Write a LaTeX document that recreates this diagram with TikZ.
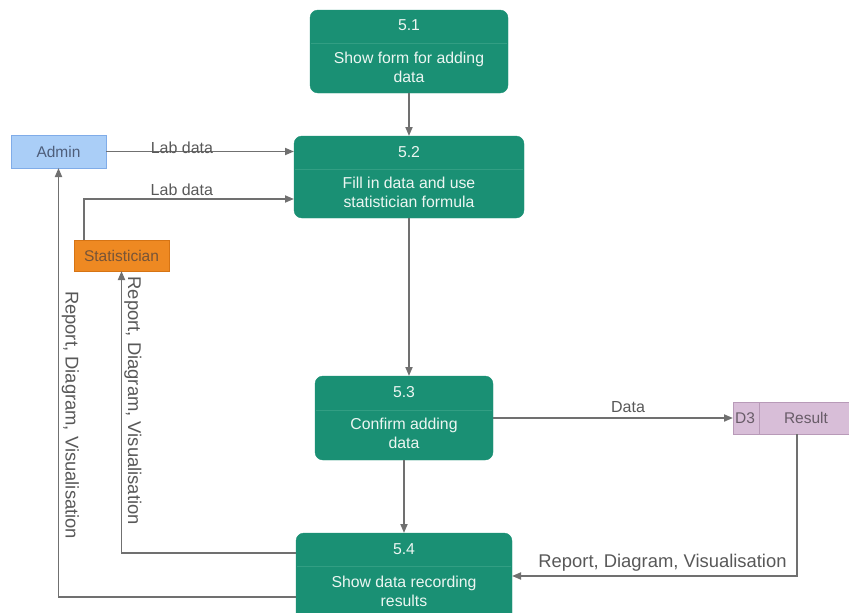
\documentclass[tikz,border=0pt]{standalone}
\usepackage{fontspec}
\setmainfont{Liberation Sans}
\usetikzlibrary{arrows.meta}

\definecolor{procgreen}{RGB}{26,144,116}
\definecolor{procsep}{RGB}{50,158,131}
\definecolor{proctext}{RGB}{236,246,242}
\definecolor{flowgray}{RGB}{112,112,112}
\definecolor{labelgray}{RGB}{88,88,88}
\definecolor{adminfill}{RGB}{170,206,247}
\definecolor{admindraw}{RGB}{128,172,232}
\definecolor{admintext}{RGB}{78,94,122}
\definecolor{statfill}{RGB}{238,137,34}
\definecolor{statdraw}{RGB}{214,116,20}
\definecolor{stattext}{RGB}{118,84,56}
\definecolor{storefill}{RGB}{216,190,216}
\definecolor{storedraw}{RGB}{184,154,184}
\definecolor{storetext}{RGB}{104,92,104}

\begin{document}
\begin{tikzpicture}[x=1pt,y=-1pt,
  proc/.style={draw=procgreen, fill=procgreen, rounded corners=8pt,
    inner sep=0pt, outer sep=0pt},
  proctitle/.style={text=proctext, inner sep=0pt,
    font=\fontsize{15.8}{19}\selectfont},
  procbody/.style={text=proctext, inner sep=0pt, align=center,
    font=\fontsize{15.8}{19}\selectfont},
  procsepline/.style={draw=procsep, line width=0.6pt},
  entity/.style={inner sep=0pt, outer sep=0pt, line width=0.8pt,
    font=\fontsize{15.5}{19}\selectfont},
  flow/.style={draw=flowgray, line width=1.8pt,
    -{Triangle[length=9pt,width=7pt]}},
  lbl/.style={text=labelgray, inner sep=0pt,
    font=\fontsize{16}{19}\selectfont},
  lblbig/.style={text=labelgray, inner sep=0pt,
    font=\fontsize{18.4}{22}\selectfont}]

\useasboundingbox (0,0) rectangle (849,613);

% processes
\node[proc, minimum width=198pt, minimum height=83pt] (p1) at (409,51.5) {};
\node[proc, minimum width=230pt, minimum height=82pt] (p2) at (409,177) {};
\node[proc, minimum width=178pt, minimum height=84pt] (p3) at (404,418) {};
\node[proc, minimum width=216pt, minimum height=92pt] (p4) at (404,579) {};

\foreach \p/\d in {p1/33pt, p2/33pt, p3/34pt, p4/33pt}
  \draw[procsepline] ([yshift=-\d, xshift=1pt]\p.north west)
    -- ([yshift=-\d, xshift=-1pt]\p.north east);

\node[proctitle] (p1t) at (409,25.5) {5.1};
\node[procbody]  (p1b) at (409,67) {Show form for adding\\data};
\node[proctitle] (p2t) at (409,152.5) {5.2};
\node[procbody]  (p2b) at (409,192.5) {Fill in data and use\\statistician formula};
\node[proctitle] (p3t) at (404,392.5) {5.3};
\node[procbody]  (p3b) at (404,433) {Confirm adding\\data};
\node[proctitle] (p4t) at (404,549) {5.4};
\node[procbody]  (p4b) at (404,591.5) {Show data recording\\results};

% external entities
\node[entity, draw=admindraw, fill=adminfill, text=admintext,
  minimum width=95pt, minimum height=33pt] (admin) at (58.5,151.5) {Admin};
\node[entity, draw=statdraw, fill=statfill, text=stattext,
  minimum width=95pt, minimum height=31pt] (stat) at (121.5,255.5) {Statistician};

% data store
\node[entity, draw=storedraw, fill=storefill,
  minimum width=116pt, minimum height=32pt] (store) at (791,418) {};
\draw[storedraw, line width=0.8pt] ([xshift=26pt]store.north west)
  -- ([xshift=26pt]store.south west);
\node[entity, text=storetext] (storeid) at (745,418) {D3};
\node[entity, text=storetext] (storename) at (806,418) {Result};

% data flows
\draw[flow] (p1.south) -- (p1.south |- p2.north);
\draw[flow] (admin.east) -- (admin.east -| p2.west)
  node[lbl, pos=0.404, yshift=4pt] (labadmin) {Lab data};
\draw[flow] ([xshift=-37.5pt]stat.north) |- ([yshift=-22pt]p2.west)
  node[lbl, pos=0.733, yshift=9pt] (labstat) {Lab data};
\draw[flow] (p2.south) -- (p2.south |- p3.north);
\draw[flow] (p3.east) -- (store.west)
  node[lbl, pos=0.5625, yshift=11pt] (labdata) {Data};
\draw[flow] (p3.south) -- (p3.south |- p4.north);
\draw[flow] ([xshift=6pt]store.south) |- ([yshift=3pt]p4.east)
  node[lblbig, pos=0.736, yshift=13pt] (labresult) {Report, Diagram, Visualisation};
\draw[flow] ([yshift=26pt]p4.west) -| (stat.south)
  node[lblbig, pos=0.77, xshift=11.5pt, rotate=-90] (labtostat) {Report, Diagram, Visualisation};
\draw[flow] ([yshift=-18pt]p4.west) -| (admin.south)
  node[lblbig, pos=0.712, xshift=12pt, rotate=-90] (labtoadmin) {Report, Diagram, Visualisation};

\end{tikzpicture}
\end{document}
